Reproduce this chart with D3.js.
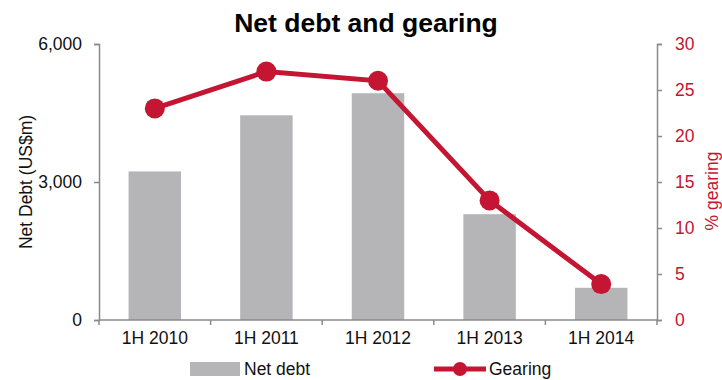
<!DOCTYPE html>
<html><head><meta charset="utf-8">
<script src="https://cdn.jsdelivr.net/npm/d3@7"></script>
<style>body{margin:0;background:#fff;} text{font-family:"Liberation Sans",Arial,sans-serif;}</style>
</head><body>
<svg id="c" width="722" height="380"></svg>
<script>
const categories = ["1H 2010","1H 2011","1H 2012","1H 2013","1H 2014"];
const netDebt = [3230, 4450, 4930, 2300, 700];
const gearing = [23, 27, 26, 13, 3.9];
const leftTicks = [0, 3000, 6000];
const rightTicks = [0,5,10,15,20,25,30];

const red = "#c41532", barCol = "#b5b5b7", axisCol = "#8a8a8a";
const fs = 17.5;
const svg = d3.select("#c");
const L = 99, R = 657, T = 44, B = 320;

const x = d3.scaleBand().domain(categories).range([L, R]).paddingInner(0.53).paddingOuter(0.265);
const xb = d3.scaleBand().domain(categories).range([L, R]);
const yL = d3.scaleLinear().domain([0, 6000]).range([B, T]);
const yR = d3.scaleLinear().domain([0, 30]).range([B, T]);

svg.append("text").attr("x", 366).attr("y", 32).attr("text-anchor","middle")
  .attr("font-size", 26.5).attr("font-weight","bold").text("Net debt and gearing");

svg.selectAll("rect.bar").data(netDebt).join("rect").attr("class","bar")
  .attr("x",(d,i)=>x(categories[i])).attr("width",x.bandwidth())
  .attr("y",d=>yL(d)).attr("height",d=>B-yL(d)).attr("fill",barCol);

// left axis
const gl = svg.append("g").attr("transform",`translate(${L},0)`)
  .call(d3.axisLeft(yL).tickValues(leftTicks).tickFormat(d3.format(",")).tickSize(5).tickPadding(12));
gl.selectAll("text").attr("font-size",fs).attr("fill","#111");
// right axis
const gr = svg.append("g").attr("transform",`translate(${R},0)`)
  .call(d3.axisRight(yR).tickValues(rightTicks).tickSize(5).tickPadding(13));
gr.selectAll("text").attr("font-size",fs).attr("fill",red);
// bottom axis
const gb = svg.append("g").attr("transform",`translate(0,${B})`)
  .call(d3.axisBottom(xb).tickSize(0).tickPadding(12));
gb.selectAll("text").attr("font-size",fs).attr("fill","#111");
gb.selectAll(".tick").append("line").attr("x1",-xb.bandwidth()/2).attr("x2",-xb.bandwidth()/2).attr("y1",0).attr("y2",5).attr("stroke",axisCol);
gb.append("line").attr("x1",R).attr("x2",R).attr("y1",0).attr("y2",5).attr("stroke",axisCol);
[gl,gr,gb].forEach(g=>{g.selectAll("path,line").attr("stroke",axisCol).attr("stroke-width",1.5);});
gb.select(".domain").attr("d",`M${L},0H${R}`);

svg.append("text").attr("transform","translate(32,182) rotate(-90)").attr("text-anchor","middle")
  .attr("font-size",fs).attr("fill","#111").text("Net Debt (US$m)");
svg.append("text").attr("transform","translate(718,191) rotate(-90)").attr("text-anchor","middle")
  .attr("font-size",fs).attr("fill",red).text("% gearing");

// line
const line = d3.line().x((d,i)=>xb(categories[i])+xb.bandwidth()/2).y(d=>yR(d));
svg.append("path").datum(gearing).attr("d",line).attr("fill","none").attr("stroke",red).attr("stroke-width",5);
svg.selectAll("circle.pt").data(gearing).join("circle").attr("class","pt")
  .attr("cx",(d,i)=>xb(categories[i])+xb.bandwidth()/2).attr("cy",d=>yR(d)).attr("r",10).attr("fill",red);

// legend
svg.append("rect").attr("x",190).attr("y",362).attr("width",50).attr("height",14).attr("fill",barCol);
svg.append("text").attr("x",244).attr("y",375).attr("font-size",fs).attr("fill","#111").text("Net debt");
svg.append("line").attr("x1",434).attr("x2",486).attr("y1",369).attr("y2",369).attr("stroke",red).attr("stroke-width",5);
svg.append("circle").attr("cx",460).attr("cy",369).attr("r",7).attr("fill",red);
svg.append("text").attr("x",489).attr("y",375).attr("font-size",fs).attr("fill","#111").text("Gearing");
</script>
</body></html>
